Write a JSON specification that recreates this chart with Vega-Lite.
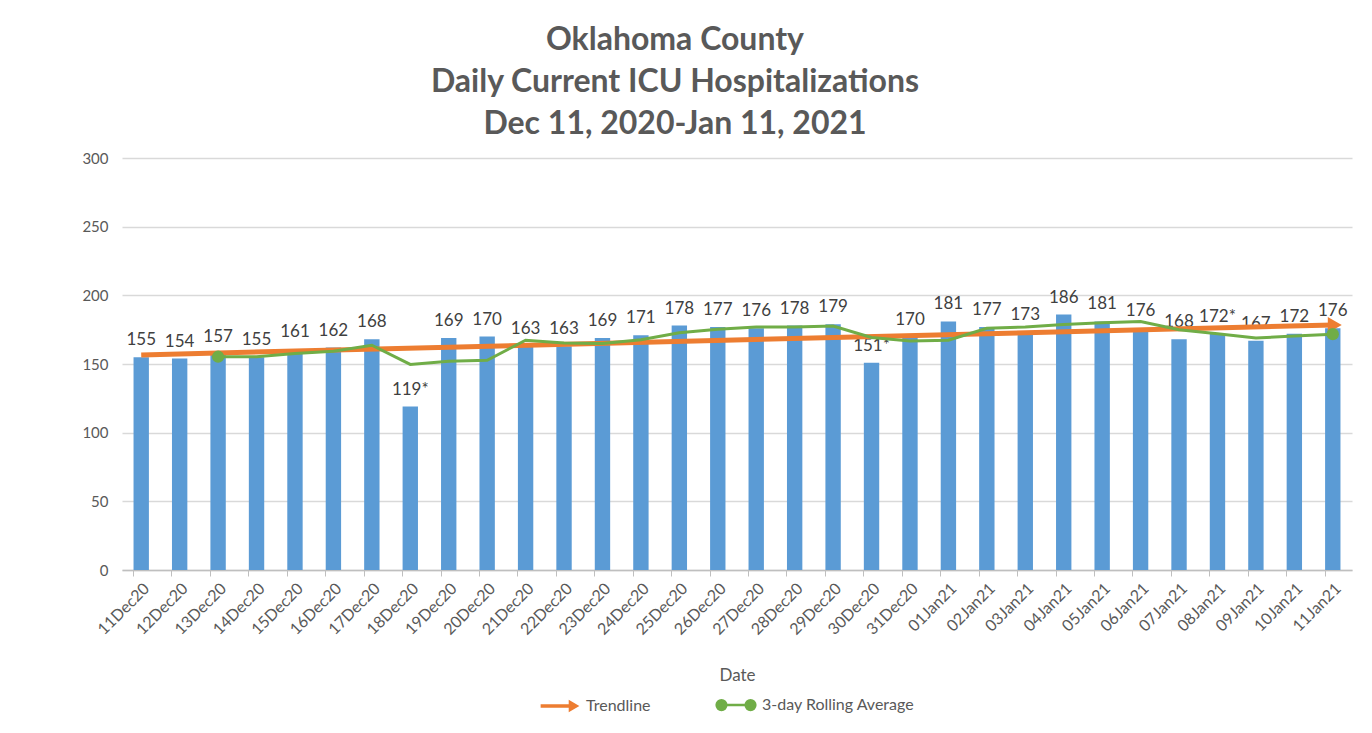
{
  "$schema": "https://vega.github.io/schema/vega-lite/v6.json",
  "width": 1230,
  "height": 412,
  "autosize": {"type": "none"},
  "padding": {"left": 122, "top": 158, "right": 20, "bottom": 163},
  "background": "white",
  "config": {
    "font": "Lato",
    "view": {"stroke": null}
  },
  "title": {
    "text": ["Oklahoma County", "Daily Current ICU Hospitalizations", "Dec 11, 2020-Jan 11, 2021"],
    "fontSize": 32,
    "fontWeight": "bold",
    "color": "#595959",
    "lineHeight": 42,
    "anchor": "middle",
    "dx": -62,
    "offset": 10
  },
  "datasets": {
    "daily": [
      {"date": "11Dec20", "value": 155, "label": "155", "avg": null},
      {"date": "12Dec20", "value": 154, "label": "154", "avg": null},
      {"date": "13Dec20", "value": 157, "label": "157", "avg": 155.3},
      {"date": "14Dec20", "value": 155, "label": "155", "avg": 155.3},
      {"date": "15Dec20", "value": 161, "label": "161", "avg": 157.7},
      {"date": "16Dec20", "value": 162, "label": "162", "avg": 159.3},
      {"date": "17Dec20", "value": 168, "label": "168", "avg": 163.7},
      {"date": "18Dec20", "value": 119, "label": "119*", "avg": 149.7},
      {"date": "19Dec20", "value": 169, "label": "169", "avg": 152.0},
      {"date": "20Dec20", "value": 170, "label": "170", "avg": 152.7},
      {"date": "21Dec20", "value": 163, "label": "163", "avg": 167.3},
      {"date": "22Dec20", "value": 163, "label": "163", "avg": 165.3},
      {"date": "23Dec20", "value": 169, "label": "169", "avg": 165.0},
      {"date": "24Dec20", "value": 171, "label": "171", "avg": 167.7},
      {"date": "25Dec20", "value": 178, "label": "178", "avg": 172.7},
      {"date": "26Dec20", "value": 177, "label": "177", "avg": 175.3},
      {"date": "27Dec20", "value": 176, "label": "176", "avg": 177.0},
      {"date": "28Dec20", "value": 178, "label": "178", "avg": 177.0},
      {"date": "29Dec20", "value": 179, "label": "179", "avg": 177.7},
      {"date": "30Dec20", "value": 151, "label": "151*", "avg": 169.3},
      {"date": "31Dec20", "value": 170, "label": "170", "avg": 166.7},
      {"date": "01Jan21", "value": 181, "label": "181", "avg": 167.3},
      {"date": "02Jan21", "value": 177, "label": "177", "avg": 176.0},
      {"date": "03Jan21", "value": 173, "label": "173", "avg": 177.0},
      {"date": "04Jan21", "value": 186, "label": "186", "avg": 178.7},
      {"date": "05Jan21", "value": 181, "label": "181", "avg": 180.0},
      {"date": "06Jan21", "value": 176, "label": "176", "avg": 181.0},
      {"date": "07Jan21", "value": 168, "label": "168", "avg": 175.0},
      {"date": "08Jan21", "value": 172, "label": "172*", "avg": 172.0},
      {"date": "09Jan21", "value": 167, "label": "167", "avg": 169.0},
      {"date": "10Jan21", "value": 172, "label": "172", "avg": 170.3},
      {"date": "11Jan21", "value": 176, "label": "176", "avg": 171.7}
    ],
    "trend": [
      {"date": "11Dec20", "trend": 156.6},
      {"date": "11Jan21", "trend": 178.4}
    ]
  },
  "data": {"name": "daily"},
  "encoding": {
    "x": {
      "field": "date",
      "type": "nominal",
      "sort": null,
      "scale": {"paddingInner": 0.6, "paddingOuter": 0.3},
      "axis": {
        "title": "Date",
        "titleFontSize": 17,
        "titleFontWeight": "normal",
        "titleColor": "#595959",
        "titlePadding": 30,
        "labelAngle": -45,
        "labelFontSize": 16,
        "labelColor": "#595959",
        "labelPadding": 4,
        "bandPosition": 0,
        "tickSize": 6,
        "tickColor": "#bfbfbf",
        "domainColor": "#bfbfbf",
        "domainWidth": 1.5,
        "grid": false
      }
    }
  },
  "layer": [
    {
      "mark": {"type": "bar", "color": "#5B9BD5"},
      "encoding": {
        "y": {
          "field": "value",
          "type": "quantitative",
          "scale": {"domain": [0, 300]},
          "axis": {
            "title": null,
            "values": [0, 50, 100, 150, 200, 250, 300],
            "domain": false,
            "ticks": false,
            "labelFontSize": 15,
            "labelColor": "#595959",
            "labelPadding": 14,
            "gridColor": "#d9d9d9",
            "gridWidth": 1.5
          }
        }
      }
    },
    {
      "mark": {"type": "text", "dy": -17, "fontSize": 17, "color": "#404040"},
      "encoding": {
        "y": {"field": "value", "type": "quantitative"},
        "text": {"field": "label"}
      }
    },
    {
      "data": {"name": "trend"},
      "mark": {"type": "line", "strokeWidth": 5},
      "encoding": {
        "y": {"field": "trend", "type": "quantitative"},
        "color": {
          "datum": "Trendline",
          "scale": {"domain": ["Trendline", "3-day Rolling Average"], "range": ["#ED7D31", "#70AD47"]},
          "legend": {
            "title": null,
            "orient": "none",
            "legendX": 430,
            "legendY": 539,
            "direction": "horizontal",
            "labelFontSize": 16,
            "labelColor": "#595959",
            "symbolSize": 1500,
            "columnPadding": 60,
            "symbolOffset": 0,
            "labelOffset": 18,
            "encode": {
              "symbols": {
                "update": {
                  "shape": {"signal": "datum.value === 'Trendline' ? 'M-1,-0.09 L0.45,-0.09 L0.45,-0.32 L1,0 L0.45,0.32 L0.45,0.09 L-1,0.09 Z' : 'M-0.75,0 L0.75,0 M-1,0 A0.25,0.25 0 1,0 -0.5,0 A0.25,0.25 0 1,0 -1,0 Z M0.5,0 A0.25,0.25 0 1,0 1,0 A0.25,0.25 0 1,0 0.5,0 Z'"},
                  "fill": {"signal": "datum.value === 'Trendline' ? '#ED7D31' : '#70AD47'"},
                  "stroke": {"signal": "datum.value === 'Trendline' ? '#ED7D31' : '#70AD47'"},
                  "strokeWidth": {"signal": "datum.value === 'Trendline' ? 0 : 2.5"},
                  "opacity": {"value": 1}
                }
              }
            }
          }
        }
      }
    },
    {
      "data": {"name": "trend"},
      "transform": [{"filter": "datum.date == '11Jan21'"}],
      "mark": {"type": "point", "shape": "triangle-right", "filled": true, "size": 260, "opacity": 1, "xOffset": 2},
      "encoding": {
        "y": {"field": "trend", "type": "quantitative"},
        "color": {"datum": "Trendline"}
      }
    },
    {
      "transform": [{"filter": "datum.avg != null"}],
      "mark": {"type": "line", "strokeWidth": 3},
      "encoding": {
        "y": {"field": "avg", "type": "quantitative"},
        "color": {"datum": "3-day Rolling Average"}
      }
    },
    {
      "transform": [{"filter": "datum.date == '13Dec20' || datum.date == '11Jan21'"}],
      "mark": {"type": "point", "filled": true, "size": 150, "opacity": 1},
      "encoding": {
        "y": {"field": "avg", "type": "quantitative"},
        "color": {"datum": "3-day Rolling Average"}
      }
    }
  ]
}
